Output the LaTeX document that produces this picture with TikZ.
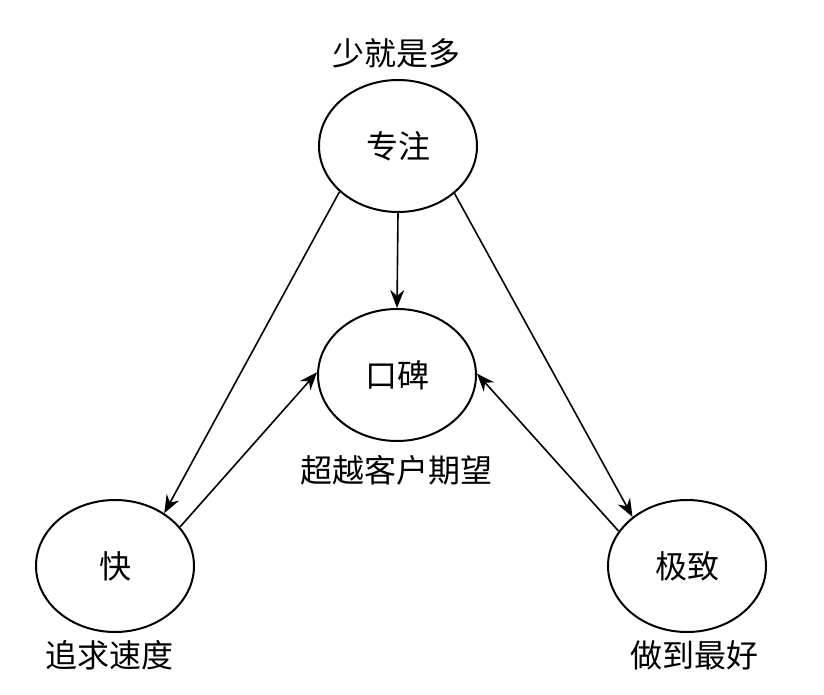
\documentclass[tikz,border=0pt]{standalone}
\usepackage{fontspec}
\setmainfont{Noto Sans CJK SC}
\usepackage{tikz}
\usetikzlibrary{arrows.meta,shapes.geometric}

\begin{document}
\begin{tikzpicture}[
  x=0.5pt, y=-0.5pt,
  font=\fontsize{16pt}{19pt}\selectfont,
  idea/.style ={ellipse, draw=black, line width=1pt, inner sep=0pt,
                minimum width=79pt, minimum height=66pt},
  caption/.style={inner sep=0pt},
  flow/.style ={-{Stealth[length=9pt, width=7pt]}, line width=0.8pt, draw=black},
]
\useasboundingbox (0,0) rectangle (824,695);

\node[idea] (focus) at (398,146) {专注};
\node[idea] (word)  at (397,375) {口碑};
\node[idea] (fast)  at (115,566) {快};
\node[idea] (best)  at (687,566) {极致};

\node[caption] (less)   at (396,53)  {少就是多};
\node[caption] (beyond) at (396,470) {超越客户期望};
\node[caption] (speed)  at (109,655) {追求速度};
\node[caption] (top)    at (694,655) {做到最好};

\draw[flow] (focus.218) -- (fast.47);
\draw[flow] (fast.31) -- (word.178);
\draw[flow] (focus.270) -- (word.90);
\draw[flow] (focus.320) -- (best.138);
\draw[flow] (best.153) -- (word.1);

\end{tikzpicture}
\end{document}
